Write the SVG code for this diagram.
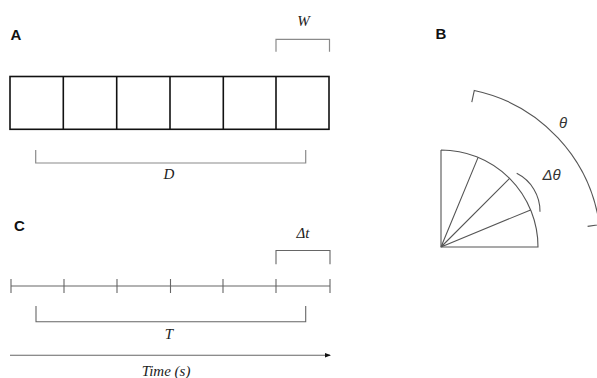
<svg xmlns="http://www.w3.org/2000/svg" width="597" height="378" viewBox="0 0 597 378">
<defs>
<style>
.title{font-family:"Liberation Sans",Arial,sans-serif;font-weight:bold;font-size:15px;fill:#111}
.lbl{font-family:"Liberation Serif","Times New Roman",serif;font-style:italic;font-size:15px;fill:#222;text-anchor:middle}
.lbls{font-family:"Liberation Sans",Arial,sans-serif;font-style:italic;font-size:15px;fill:#333;text-anchor:middle}
.box{fill:none;stroke:#111;stroke-width:1.6}
.br{fill:none;stroke:#8a8a8a;stroke-width:1.2}
.tl{fill:none;stroke:#666;stroke-width:1.1}
.bk{fill:none;stroke:#555;stroke-width:1.1}
</style>
<marker id="ah" markerWidth="6" markerHeight="6" refX="5" refY="3" orient="auto" markerUnits="userSpaceOnUse">
<path d="M0,0.8 L6,3 L0,5.2 Z" fill="#111"/>
</marker>
</defs>

<g id="panelA">
<text class="title" x="10.5" y="40">A</text>
<g id="cells">
<rect class="box" x="10" y="76.5" width="319" height="52.8"/>
<line class="box" x1="63.3" y1="76.5" x2="63.3" y2="129.3"/>
<line class="box" x1="116.7" y1="76.5" x2="116.7" y2="129.3"/>
<line class="box" x1="170" y1="76.5" x2="170" y2="129.3"/>
<line class="box" x1="223.3" y1="76.5" x2="223.3" y2="129.3"/>
<line class="box" x1="276" y1="76.5" x2="276" y2="129.3"/>
</g>
<g id="W">
<path class="br" d="M276,51.7 V39.3 H329.5 V51.7"/>
<text class="lbl" x="303.5" y="26">W</text>
</g>
<g id="D">
<path class="br" d="M35.7,150 V163 H305.7 V150"/>
<text class="lbl" x="169" y="178.5">D</text>
</g>
</g>

<g id="panelC">
<text class="title" x="14" y="230.7">C</text>
<g id="timeline">
<line class="tl" x1="11" y1="286" x2="330" y2="286"/>
<path class="tl" d="M11,279 V293 M64,279 V293 M117,279 V293 M170.5,279 V293 M223,279 V293 M276,279 V293 M330,279 V293"/>
</g>
<g id="dt">
<path class="tl" d="M276,264.3 V250.5 H330 V264.3"/>
<text class="lbl" x="303" y="238">Δt</text>
</g>
<g id="T">
<path class="tl" d="M36,306 V321.7 H305.7 V306"/>
<text class="lbl" x="169" y="338.7">T</text>
</g>
<g id="timeaxis">
<line class="tl" x1="10" y1="355.3" x2="330" y2="355.3" marker-end="url(#ah)"/>
<text class="lbl" x="166" y="375.5">Time (s)</text>
</g>
</g>

<g id="panelB">
<text class="title" x="435.5" y="38.7">B</text>
<g id="sector">
<path class="bk" d="M441,150 V247 H538 A97,97 0 0 0 441,150"/>
<path class="bk" d="M441,247 L530.6,209.9 M441,247 L509.6,178.4 M441,247 L478.1,157.4"/>
</g>
<g id="dtheta">
<path class="bk" d="M516.7,173.3 A42.4,42.4 0 0 1 540,211.7" stroke-width="1"/>
<text class="lbls" x="551.5" y="180">Δθ</text>
</g>
<g id="theta">
<path class="bk" d="M471.8,102.2 L474.3,90.5 A160,160 0 0 1 599.4,224.7 L587.6,226.4" stroke-width="1"/>
<text class="lbls" x="563" y="127.5">θ</text>
</g>
</g>
</svg>
